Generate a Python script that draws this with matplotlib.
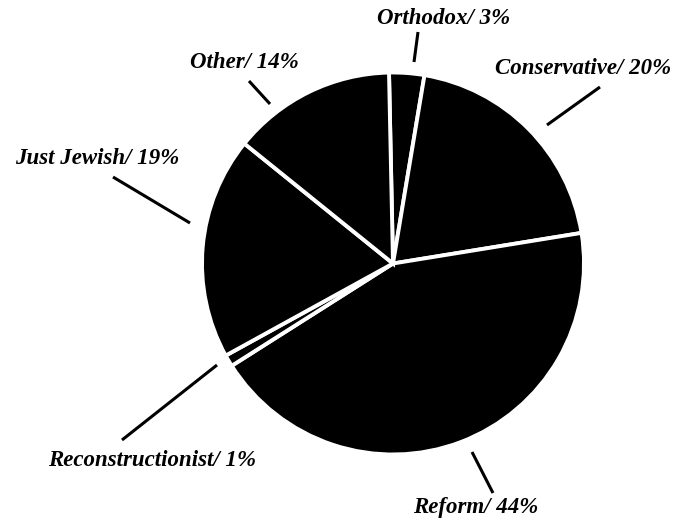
import matplotlib
matplotlib.use("Agg")
import matplotlib.pyplot as plt

# data
groups = ["Orthodox", "Conservative", "Reform", "Reconstructionist", "Just Jewish", "Other"]
shares = [3, 20, 44, 1, 19, 14]

# label layout, pixel coords (y from top): text centre, leader start, leader end
label_xy = [(444, 19), (583, 68), (476, 508), (152, 460), (97, 158), (244, 63)]
leader_from = [(418, 32), (600, 87), (493, 493), (122, 440), (113, 177), (249, 81)]
leader_to = [(414, 62), (547, 125), (472, 452), (217, 365), (190, 223), (270, 104)]

W, H = 699, 522
fig = plt.figure(figsize=(W / 100, H / 100), dpi=100)
ax = fig.add_axes([0, 0, 1, 1])

ax.pie(shares, colors=["black"] * len(shares), startangle=91.2, counterclock=False,
       center=(393, H - 263.5), radius=191,
       wedgeprops=dict(edgecolor="white", linewidth=2.8), frame=True)
ax.set_xlim(0, W)
ax.set_ylim(0, H)
ax.set_aspect("equal")
ax.axis("off")

for name, pct, (tx, ty), p0, p1 in zip(groups, shares, label_xy, leader_from, leader_to):
    ax.text(tx, H - ty, f"{name}/ {pct}%", ha="center", va="center",
            fontsize=16.5, fontweight="bold", fontstyle="italic", family="Liberation Serif")
    ax.plot([p0[0], p1[0]], [H - p0[1], H - p1[1]], color="black", lw=2.2,
            solid_capstyle="butt")

fig.savefig("out.png", dpi=100)
